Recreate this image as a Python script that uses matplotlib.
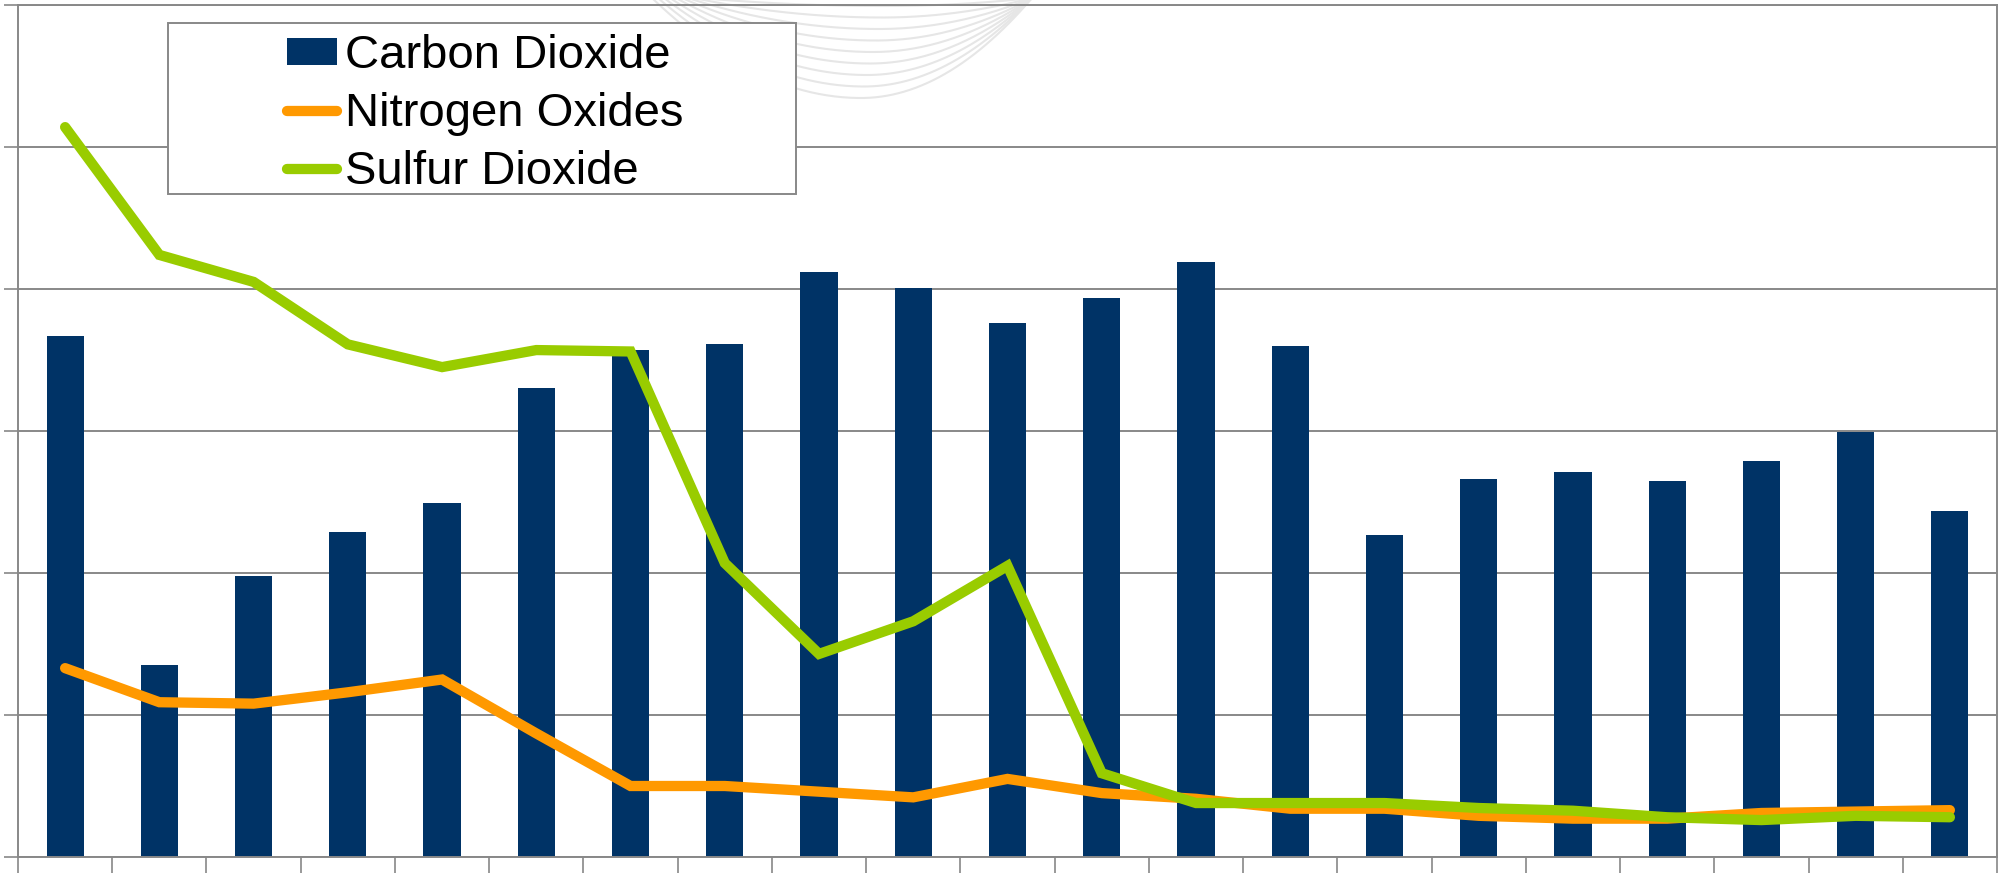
import matplotlib
matplotlib.use("Agg")
import matplotlib.pyplot as plt
import numpy as np
from matplotlib.patches import Rectangle
from matplotlib.transforms import Affine2D

plt.rcParams['font.family'] = ['Liberation Sans', 'DejaVu Sans']

# ---- data (y in gridline units) ----
categories = [str(i) for i in range(1, 22)]
carbon_dioxide = [3.67, 1.35, 1.98, 2.29, 2.49, 3.30, 3.57, 3.61, 4.12, 4.01,
                  3.76, 3.94, 4.19, 3.60, 2.27, 2.66, 2.71, 2.65, 2.79, 2.99, 2.44]
nitrogen_oxides = [1.33, 1.09, 1.08, 1.16, 1.25, 0.87, 0.50, 0.50, 0.46, 0.42,
                   0.55, 0.45, 0.41, 0.34, 0.34, 0.29, 0.27, 0.27, 0.31, 0.32, 0.33]
sulfur_dioxide = [5.14, 4.24, 4.05, 3.61, 3.45, 3.57, 3.56, 2.07, 1.43, 1.66,
                  2.05, 0.59, 0.38, 0.38, 0.38, 0.345, 0.326, 0.28, 0.26, 0.29, 0.28]
series_names = ["Carbon Dioxide", "Nitrogen Oxides", "Sulfur Dioxide"]

W, H = 2010, 880
fig = plt.figure(figsize=(W / 100, H / 100), dpi=100)
fig.patch.set_facecolor('white')

ax = fig.add_axes([18 / W, 23 / H, (1997 - 18) / W, (857 - 5) / H])
ax.set_facecolor('none')

# faint background decoration (template swoosh) in pixel coordinates
px = Affine2D().scale(1, -1).translate(0, H)
for k in range(9):
    d = 8 + 11.5 * k
    xb = 885 - 3 * k
    L = 700 - 6 * k
    R = 1032
    xl = np.linspace(L, xb, 80)
    yl = d * (1 - ((xb - xl) / (xb - L)) ** 2)
    xr = np.linspace(xb, R, 60)
    yr = d * (1 - ((xr - xb) / (R - xb)) ** 2)
    xs = np.concatenate([xl, xr])
    ys = np.concatenate([yl, yr]) - 2
    fig.add_artist(plt.Line2D(xs, ys, transform=px, color='#e6e6e6', lw=1.5, zorder=-1))

x = np.arange(len(categories)) + 0.5

bars = ax.bar(x, carbon_dioxide, width=0.395, color='#003366', zorder=2, label=series_names[0])
l1, = ax.plot(x, nitrogen_oxides, color='#FF9900', lw=7.4, solid_capstyle='round',
              solid_joinstyle='miter', zorder=3, label=series_names[1])
l2, = ax.plot(x, sulfur_dioxide, color='#99CC00', lw=7.4, solid_capstyle='round',
              solid_joinstyle='miter', zorder=4, label=series_names[2])

ax.set_xlim(0, len(categories))
ax.set_ylim(0, 6)
ax.set_xticks(np.arange(0, len(categories) + 1))
ax.set_yticks(np.arange(0, 7))
ax.set_xticklabels([])
ax.set_yticklabels([])
ax.yaxis.grid(True, color='#888888', lw=1.4, zorder=1)
ax.set_axisbelow(True)
ax.tick_params(axis='x', length=11.5, width=1.2, color='#888888', direction='out')
ax.tick_params(axis='y', length=10, width=1.2, color='#888888', direction='out')
for s in ax.spines.values():
    s.set_color('#888888')
    s.set_linewidth(1.4)

# legend frame drawn manually to match the wide box
frame = Rectangle((168 / W, 1 - 194 / H), (796 - 168) / W, (194 - 23) / H,
                  transform=fig.transFigure, facecolor='white',
                  edgecolor='#888888', lw=1.4, zorder=5, clip_on=False)
ax.add_patch(frame)
leg = ax.legend([bars, l1, l2], series_names,
                loc='center', bbox_to_anchor=((285 + 685) / 2 / W, 1 - 114 / H),
                bbox_transform=fig.transFigure, frameon=False, fontsize=34,
                handlelength=1.07, handleheight=0.5, handletextpad=0.15,
                labelspacing=0.29, borderpad=0, borderaxespad=0)
leg.set_zorder(6)

fig.savefig("out.png", dpi=100)
